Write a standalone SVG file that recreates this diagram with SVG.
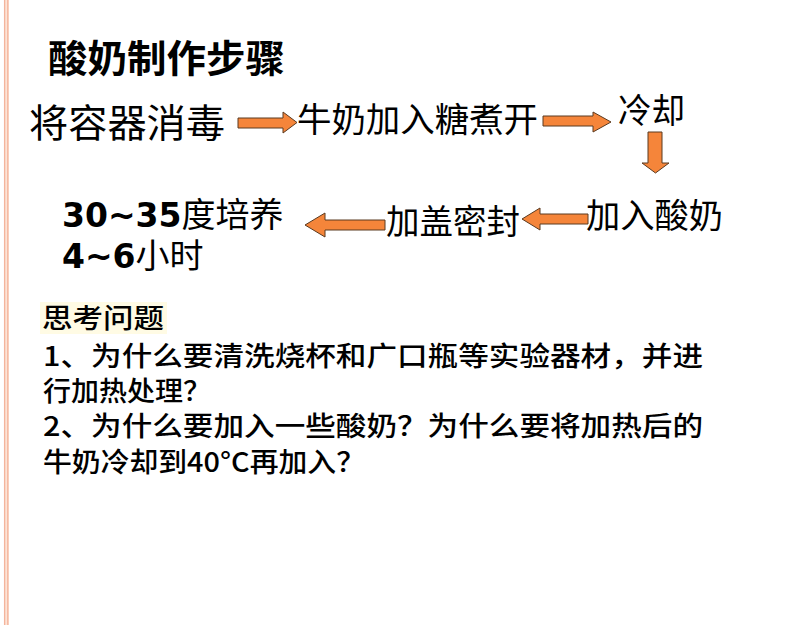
<svg xmlns="http://www.w3.org/2000/svg" width="794" height="625" viewBox="0 0 794 625">
<style>
.cjk{font-family:"Noto Sans CJK SC","Noto Sans",sans-serif;fill:#000;}
.step{font-size:34px;font-weight:400;}
.num{font-family:"DejaVu Sans",sans-serif;font-weight:700;}
.q{font-size:27px;font-weight:500;}
.arrow{fill:#f5853a;stroke:#5a3a20;stroke-width:1;}
</style>
<rect x="0" y="0" width="794" height="625" fill="#fff"/>
<g id="border">
<rect x="4" y="0" width="5" height="625" fill="#fde3d6"/>
<line x1="4.6" y1="0" x2="4.6" y2="625" stroke="#f4b49c" stroke-width="1.3"/>
<line x1="7.8" y1="0" x2="7.8" y2="625" stroke="#f4b49c" stroke-width="1.3"/>
</g>
<g id="title">
<text class="cjk" x="48" y="72" font-size="38" font-weight="700" textLength="237" lengthAdjust="spacingAndGlyphs">酸奶制作步骤</text>
</g>
<g id="node-disinfect">
<text class="cjk" x="29" y="137" font-size="39" textLength="196" lengthAdjust="spacingAndGlyphs">将容器消毒</text>
</g>
<g id="node-boil">
<text class="cjk step" x="297" y="132" textLength="241" lengthAdjust="spacingAndGlyphs">牛奶加入糖煮开</text>
</g>
<g id="node-cool">
<text class="cjk step" x="618" y="123" textLength="67" lengthAdjust="spacingAndGlyphs">冷却</text>
</g>
<g id="node-addyogurt">
<text class="cjk step" x="586" y="228" textLength="137" lengthAdjust="spacingAndGlyphs">加入酸奶</text>
</g>
<g id="node-seal">
<text class="cjk step" x="386" y="234" textLength="134" lengthAdjust="spacingAndGlyphs">加盖密封</text>
</g>
<g id="node-incubate">
<text class="cjk step"><tspan x="62" y="227"><tspan class="num" font-size="33">30~35</tspan>度培养</tspan><tspan x="62" y="268"><tspan class="num" font-size="33">4~6</tspan>小时</tspan></text>
</g>
<g id="connectors">
<path class="arrow" d="M238,118 H283 V112 L297,122.5 L283,133 V128 H238 Z"/>
<path class="arrow" d="M543,116 H593 V112 L611,122 L593,132 V126 H543 Z"/>
<path class="arrow" d="M648,132 V163 H642 L655.5,173 L669,163 H662 V132 Z"/>
<path class="arrow" d="M588,214 H540 V208 L522,219 L540,230 V224 H588 Z"/>
<path class="arrow" d="M385,220 H325 V213 L305,225 L325,237 V230 H385 Z"/>
</g>
<g id="questions">
<rect x="40" y="302" width="127" height="32" fill="#fffbe4"/>
<text class="cjk q" x="42" y="328" textLength="122" lengthAdjust="spacingAndGlyphs">思考问题</text>
<text class="cjk q"><tspan x="43" y="366" textLength="660" lengthAdjust="spacingAndGlyphs">1、为什么要清洗烧杯和广口瓶等实验器材，并进</tspan><tspan x="43" y="401" textLength="168" lengthAdjust="spacingAndGlyphs">行加热处理？</tspan><tspan x="43" y="436" textLength="660" lengthAdjust="spacingAndGlyphs">2、为什么要加入一些酸奶？为什么要将加热后的</tspan><tspan x="43" y="472" textLength="322" lengthAdjust="spacingAndGlyphs">牛奶冷却到40°C再加入？</tspan></text>
</g>
</svg>
